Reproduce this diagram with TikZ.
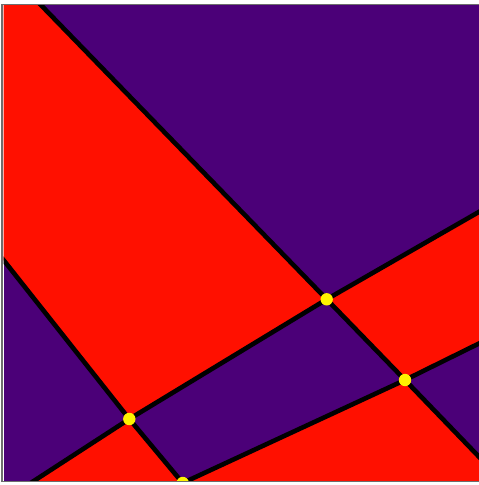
\documentclass[tikz,border=0pt]{standalone}
\definecolor{fieldred}{RGB}{255,16,0}
\definecolor{fieldpurple}{RGB}{75,0,120}
\definecolor{framegray}{RGB}{110,110,110}
\begin{document}
\begin{tikzpicture}[x=0.5pt,y=-0.5pt,
  cut/.style={line width=2.3pt,black},
  spot/.style={circle,fill=yellow,inner sep=0pt,minimum size=6.2pt}]
\useasboundingbox (0,0) rectangle (478,485);
% the field
\coordinate (TL) at (3.5,5.5);
\coordinate (BR) at (479,481.2);
% crossings
\coordinate (P1) at (326.7,299.3);
\coordinate (P2) at (405,380);
\coordinate (P3) at (129.3,419);
\coordinate (P4) at (182.7,483);
% ends of the cuts, just outside the field
\coordinate (Atop) at (37,1);
\coordinate (Aright) at (484,462);
\coordinate (Bleft) at (0,255.6);
\coordinate (Cbot) at (27.6,485);
\coordinate (Cright) at (484,209);
\coordinate (Dright) at (484,341);
\begin{scope}
\clip (TL) rectangle (BR);
\fill[fieldpurple] (TL) rectangle (BR);
\fill[fieldred] (0,0) -- (Atop) -- (P1) -- (P3) -- (Bleft) -- cycle;
\fill[fieldred] (P1) -- (Cright) -- (Dright) -- (P2) -- cycle;
\fill[fieldred] (P4) -- (P2) -- (Aright) -- (484,490) -- (182.7,490) -- cycle;
\fill[fieldred] (Cbot) -- (P3) -- (P4) -- (182.7,490) -- (27.6,490) -- cycle;
\draw[cut] (Atop) -- (P1) -- (P2) -- (Aright);
\draw[cut] (Bleft) -- (P3) -- (P4);
\draw[cut] (Cbot) -- (P3) -- (P1) -- (Cright);
\draw[cut] (P4) -- (P2) -- (Dright);
\foreach \p in {1,...,4}
  \node[spot] (dot\p) at (P\p) {};
\end{scope}
\draw[framegray,line width=0.6pt] (2,4.5) rectangle (481,481.8);
\end{tikzpicture}
\end{document}
